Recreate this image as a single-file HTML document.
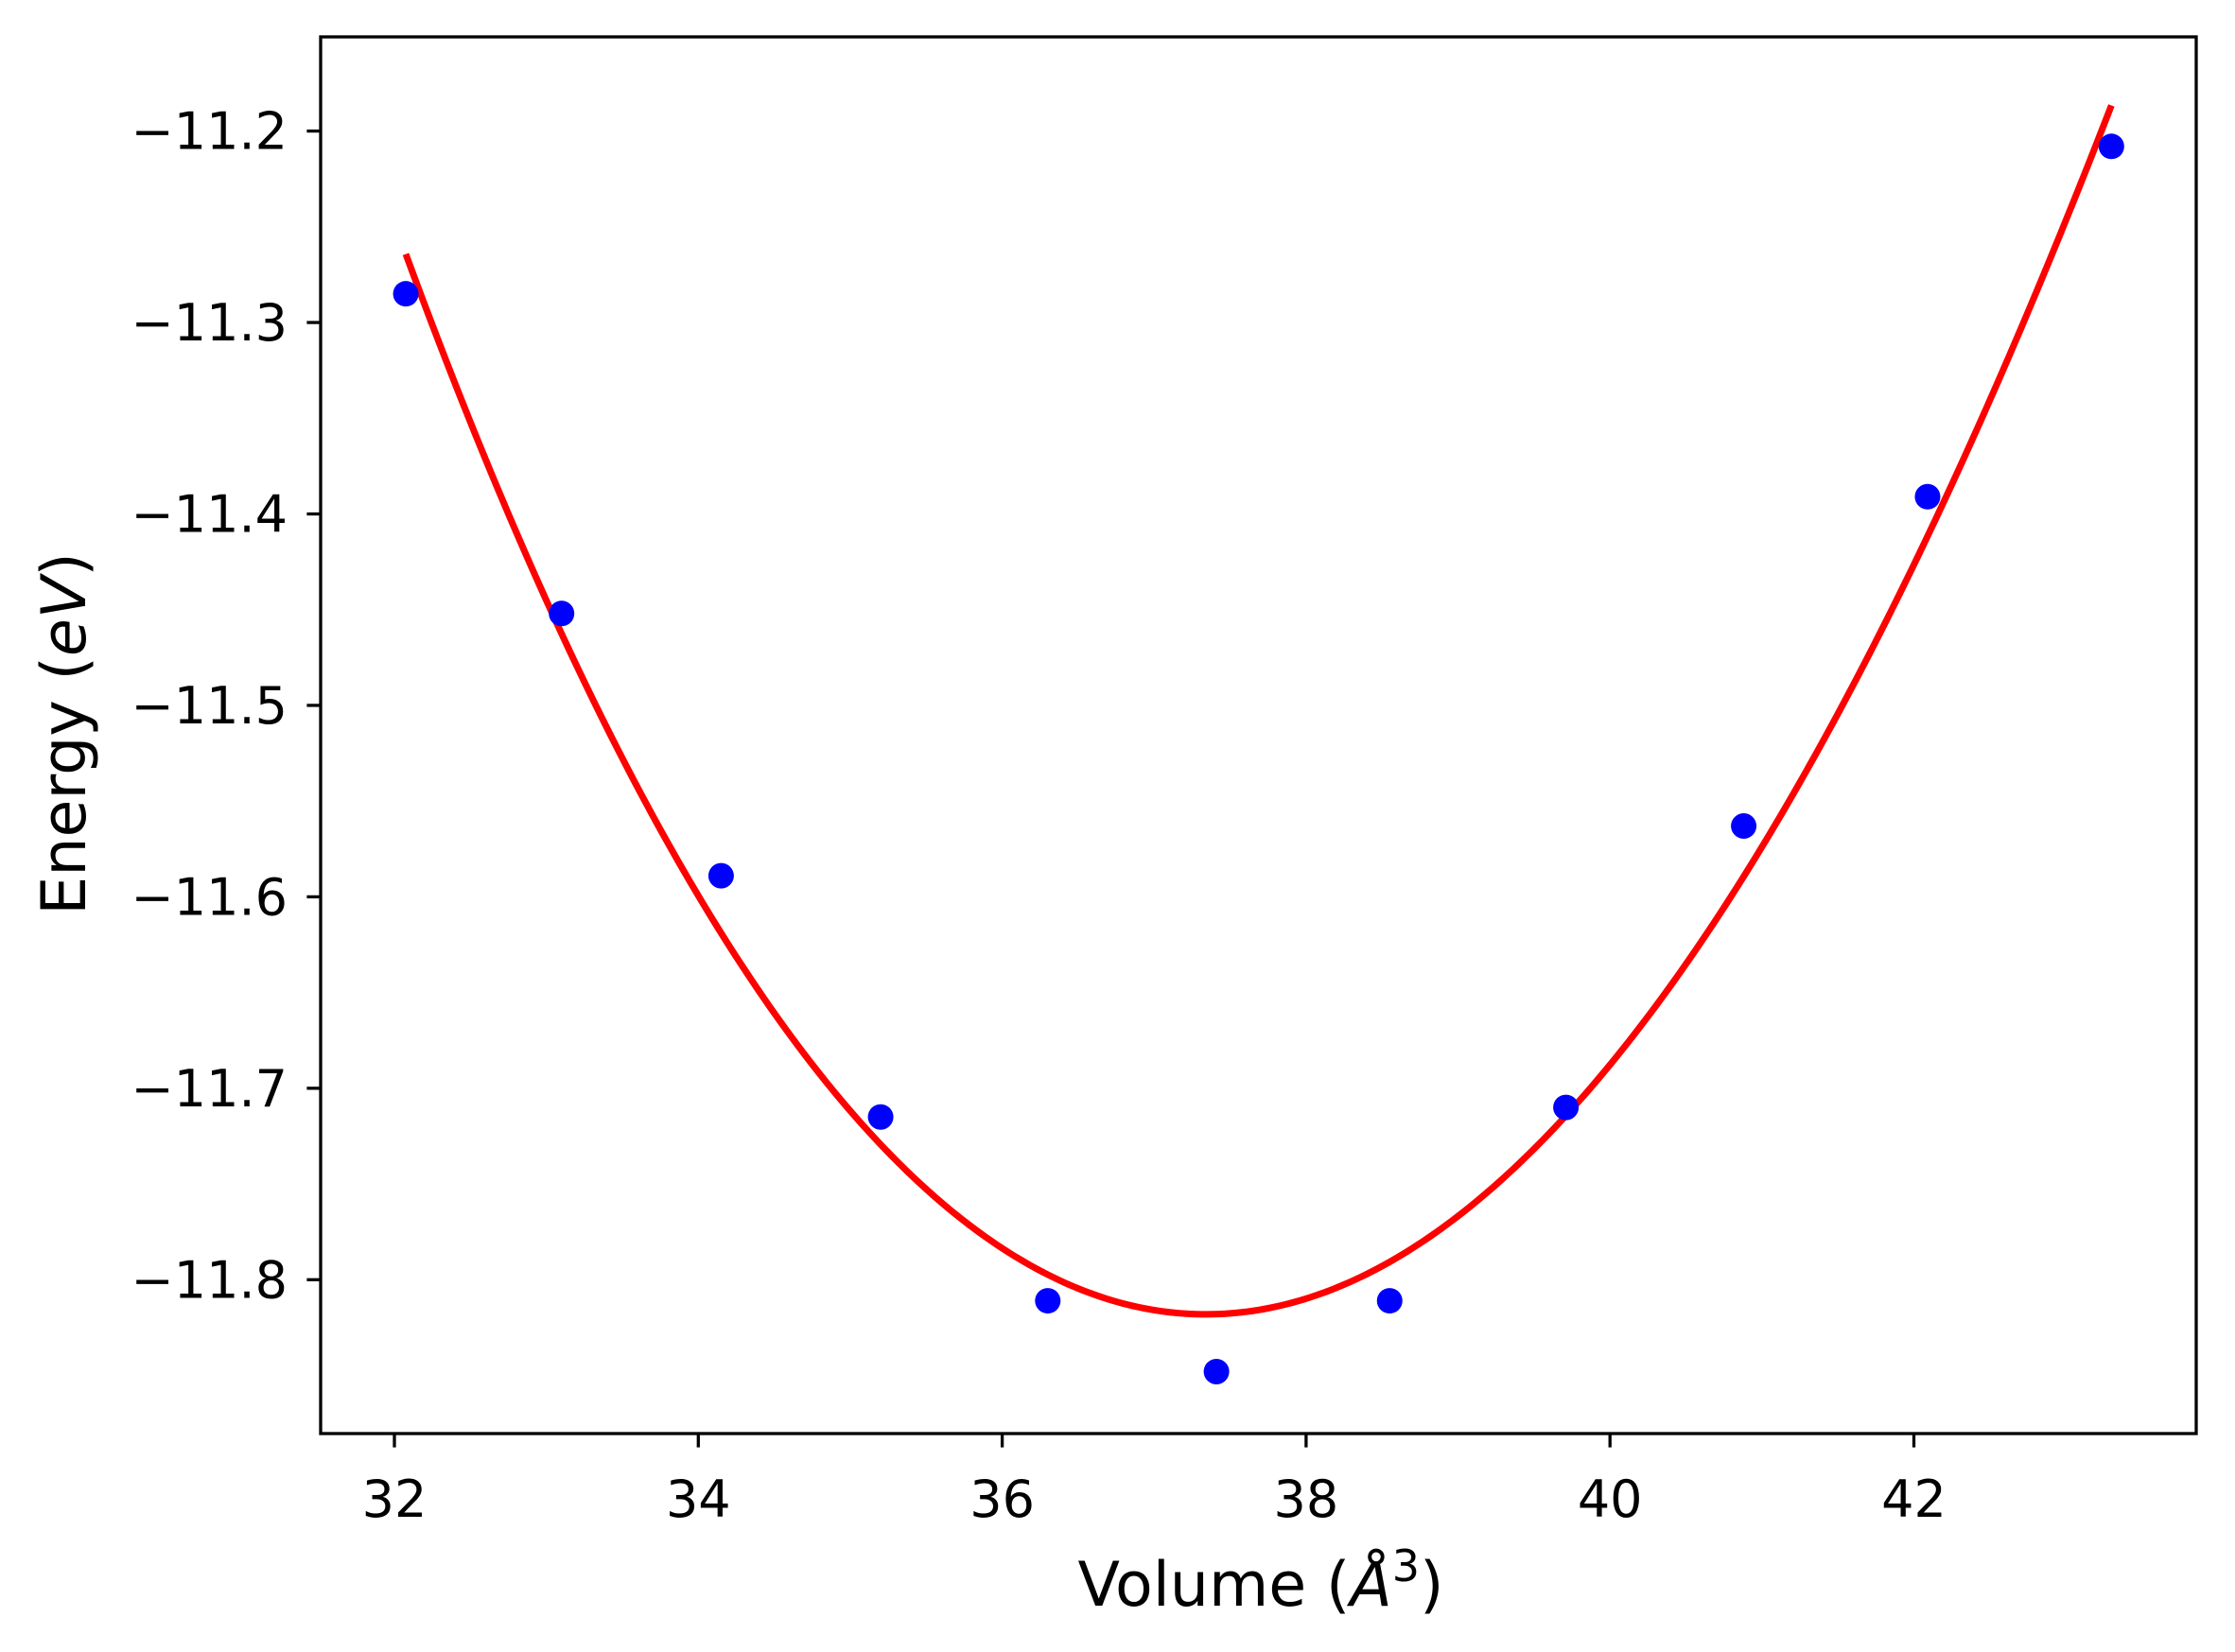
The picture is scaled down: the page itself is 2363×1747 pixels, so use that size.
<!DOCTYPE html>
<html><head><meta charset="utf-8"><style>
html,body{margin:0;padding:0;background:#fff;}
svg{display:block;font-family:"DejaVu Sans","Liberation Sans",sans-serif;}
</style></head><body>
<svg id="chart" width="2363" height="1747" viewBox="0 0 2363 1747" xmlns="http://www.w3.org/2000/svg">
<rect width="2363" height="1747" fill="#fff"/>
<g id="plot"></g>
</svg>
<script>
const volumes = [32.075, 33.1, 34.15, 35.2, 36.3, 37.41, 38.55, 39.71, 40.88, 42.09, 43.3];
const energies = [-11.285, -11.452, -11.589, -11.715, -11.811, -11.848, -11.811, -11.710, -11.563, -11.391, -11.208];
const xTicks = [32, 34, 36, 38, 40, 42];
const yTicks = [-11.2, -11.3, -11.4, -11.5, -11.6, -11.7, -11.8];

const L = 339, R = 2322, T = 39, B = 1516;
const sx = v => 417 + (v - 32) * 160.65;
const sy = e => 138.6 + (-11.2 - e) * 2024.5;
const NS = "http://www.w3.org/2000/svg";
const g = document.getElementById('plot');
function mk(tag, attrs, parent) {
  const el = document.createElementNS(NS, tag);
  for (const k in attrs) el.setAttribute(k, attrs[k]);
  (parent || g).appendChild(el);
  return el;
}

function fit(xs, ys, deg) {
  const n = deg + 1, A = [], b = [];
  const xm = 37.5;
  for (let i = 0; i < n; i++) { A.push(new Array(n).fill(0)); b.push(0); }
  xs.forEach((x, k) => {
    const t = x - xm;
    for (let i = 0; i < n; i++) {
      b[i] += ys[k] * Math.pow(t, i);
      for (let j = 0; j < n; j++) A[i][j] += Math.pow(t, i + j);
    }
  });
  for (let i = 0; i < n; i++) {
    let p = i; for (let r = i + 1; r < n; r++) if (Math.abs(A[r][i]) > Math.abs(A[p][i])) p = r;
    [A[i], A[p]] = [A[p], A[i]]; [b[i], b[p]] = [b[p], b[i]];
    for (let r = i + 1; r < n; r++) { const f = A[r][i] / A[i][i]; for (let c = i; c < n; c++) A[r][c] -= f * A[i][c]; b[r] -= f * b[i]; }
  }
  const c = new Array(n).fill(0);
  for (let i = n - 1; i >= 0; i--) { let s = b[i]; for (let j = i + 1; j < n; j++) s -= A[i][j] * c[j]; c[i] = s / A[i][i]; }
  return x => c.reduce((s, ci, i) => s + ci * Math.pow(x - xm, i), 0);
}
const f = fit(volumes, energies, 3);
const x0 = volumes[0], x1 = volumes[volumes.length - 1];
let d = '';
for (let i = 0; i <= 300; i++) {
  const x = x0 + (x1 - x0) * i / 300;
  d += (i ? 'L' : 'M') + sx(x).toFixed(2) + ',' + sy(f(x)).toFixed(2);
}
const curve = mk('path', {d: d, fill: 'none', stroke: '#ff0000', 'stroke-width': 7});



volumes.forEach((v, i) => {
  const c = mk('circle', {cx: sx(v), cy: sy(energies[i]), r: 13.5, fill: '#0000ff'});
  
  
});

const frame = mk('rect', {x: L, y: T, width: R - L, height: B - T, fill: 'none', stroke: '#000', 'stroke-width': 3.3});



xTicks.forEach(t => {
  const x = sx(t);
  const tk = mk('line', {x1: x, x2: x, y1: B, y2: B + 14.6, stroke: '#000', 'stroke-width': 3.3});
  
  
  const tx = mk('text', {x: x, y: 1604, 'font-size': 54, 'text-anchor': 'middle', fill: '#000'});
  tx.textContent = String(t);
  
  
});
yTicks.forEach(t => {
  const y = sy(t);
  const tk = mk('line', {x1: L - 14.6, x2: L, y1: y, y2: y, stroke: '#000', 'stroke-width': 3.3});
  
  
  const tx = mk('text', {x: 304, y: y + 19, 'font-size': 54, 'text-anchor': 'end', fill: '#000'});
  tx.textContent = '\u2212' + Math.abs(t).toFixed(1);
  
  
});

const xl = mk('text', {x: 1333, y: 1698, 'font-size': 65, 'text-anchor': 'middle', fill: '#000'});
xl.innerHTML = 'Volume (<tspan font-style="italic">Å</tspan><tspan font-size="46" dy="-26">3</tspan><tspan dy="26">)</tspan>';



const yl = mk('text', {x: 0, y: 0, 'font-size': 65, 'text-anchor': 'middle', fill: '#000', transform: 'translate(90,776) rotate(-90)'});
yl.innerHTML = 'Energy (<tspan font-style="italic">eV</tspan>)';


</script>
</body></html>
